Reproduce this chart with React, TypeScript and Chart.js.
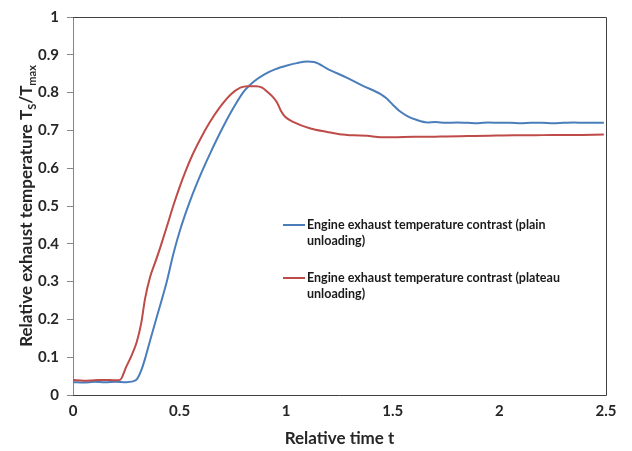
import React, { useEffect, useRef } from "react";
import { Chart, registerables } from "chart.js";

Chart.register(...registerables);

// ---- Data ----
const blueT = [0, 0.05, 0.1, 0.15, 0.2, 0.25, 0.28, 0.3, 0.32, 0.34, 0.362, 0.4, 0.44, 0.47, 0.503, 0.55, 0.6, 0.644, 0.7, 0.75, 0.8, 0.85, 0.9, 0.95, 1.0, 1.05, 1.1, 1.13, 1.2, 1.286, 1.36, 1.443, 1.47, 1.5, 1.53, 1.568, 1.61, 1.662, 1.7, 1.75, 1.8, 1.85, 1.9, 1.95, 2.0, 2.05, 2.1, 2.15, 2.2, 2.25, 2.3, 2.35, 2.4, 2.45, 2.49];
const blueV = [0.034, 0.033, 0.035, 0.034, 0.035, 0.034, 0.036, 0.042, 0.065, 0.1, 0.145, 0.22, 0.3, 0.372, 0.438, 0.515, 0.585, 0.64, 0.705, 0.757, 0.802, 0.83, 0.849, 0.862, 0.871, 0.878, 0.882, 0.881, 0.861, 0.839, 0.818, 0.796, 0.785, 0.768, 0.752, 0.738, 0.728, 0.721, 0.722, 0.72, 0.721, 0.72, 0.719, 0.721, 0.72, 0.72, 0.719, 0.72, 0.72, 0.719, 0.72, 0.721, 0.72, 0.72, 0.72];

const redT = [0, 0.05, 0.1, 0.15, 0.2, 0.221, 0.25, 0.275, 0.299, 0.32, 0.338, 0.362, 0.385, 0.409, 0.44, 0.47, 0.5, 0.53, 0.56, 0.6, 0.64, 0.69, 0.74, 0.785, 0.82, 0.86, 0.887, 0.91, 0.935, 0.957, 0.975, 0.995, 1.035, 1.114, 1.192, 1.25, 1.317, 1.38, 1.443, 1.5, 1.6, 1.678, 1.75, 1.85, 1.95, 2.07, 2.15, 2.25, 2.35, 2.49];
const redV = [0.04, 0.038, 0.039, 0.04, 0.039, 0.04, 0.075, 0.105, 0.14, 0.19, 0.255, 0.313, 0.35, 0.39, 0.445, 0.5, 0.55, 0.595, 0.635, 0.68, 0.72, 0.762, 0.795, 0.813, 0.817, 0.817, 0.813, 0.803, 0.79, 0.774, 0.752, 0.736, 0.722, 0.705, 0.696, 0.69, 0.687, 0.686, 0.682, 0.682, 0.683, 0.683, 0.684, 0.685, 0.686, 0.687, 0.687, 0.688, 0.688, 0.689];

const seriesNames = [
  "Engine exhaust temperature contrast (plain unloading)",
  "Engine exhaust temperature contrast (plateau unloading)",
];
const legendLinesBlue = ["Engine exhaust temperature contrast (plain", "unloading)"];
const legendLinesRed = ["Engine exhaust temperature contrast (plateau", "unloading)"];
const seriesColors = ["#4A7EBB", "#BE4B48"];

const xTitle = "Relative time t";
const yTitleMain = "Relative exhaust temperature T";
const yTitleSub1 = "S";
const yTitleMid = "/T";
const yTitleSub2 = "max";

const FONT = "Lato, 'Open Sans', 'DejaVu Sans', sans-serif";

const pts = (ts: number[], vs: number[]) => ts.map((t, i) => ({ x: t, y: vs[i] }));

const decorPlugin = {
  id: "decor",
  afterDraw(chart: any) {
    const ctx: CanvasRenderingContext2D = chart.ctx;
    const a = chart.chartArea;
    ctx.save();
    // plot frame (top, right, bottom)
    ctx.strokeStyle = "#404040";
    ctx.lineWidth = 1;
    ctx.beginPath();
    ctx.moveTo(a.left, a.top + 0.5);
    ctx.lineTo(a.right + 0.5, a.top + 0.5);
    ctx.lineTo(a.right + 0.5, a.bottom + 0.5);
    ctx.lineTo(a.left, a.bottom + 0.5);
    ctx.stroke();

    // legend inside the plot
    const drawEntry = (lines: string[], color: string, y: number) => {
      ctx.strokeStyle = color;
      ctx.lineWidth = 2;
      ctx.beginPath();
      ctx.moveTo(283, y);
      ctx.lineTo(305, y);
      ctx.stroke();
      ctx.fillStyle = "#1a1a1a";
      ctx.font = `bold 12.5px ${FONT}`;
      ctx.textBaseline = "middle";
      ctx.textAlign = "left";
      lines.forEach((ln, i) => ctx.fillText(ln, 307, y + i * 16));
    };
    drawEntry(legendLinesBlue, seriesColors[0], 225);
    drawEntry(legendLinesRed, seriesColors[1], 278);

    // y-axis title with subscripts
    const big = `bold 17px ${FONT}`;
    const small = `bold 11px ${FONT}`;
    ctx.font = big;
    const w1 = ctx.measureText(yTitleMain).width;
    const w3 = ctx.measureText(yTitleMid).width;
    ctx.font = small;
    const w2 = ctx.measureText(yTitleSub1).width;
    const w4 = ctx.measureText(yTitleSub2).width;
    const total = w1 + w2 + w3 + w4;
    const cy = (a.top + a.bottom) / 2;
    ctx.translate(26, cy);
    ctx.rotate(-Math.PI / 2);
    ctx.fillStyle = "#262626";
    ctx.textBaseline = "alphabetic";
    ctx.textAlign = "left";
    let x = -total / 2;
    const base = 6;
    ctx.font = big;
    ctx.fillText(yTitleMain, x, base);
    x += w1;
    ctx.font = small;
    ctx.fillText(yTitleSub1, x, base + 4);
    x += w2;
    ctx.font = big;
    ctx.fillText(yTitleMid, x, base);
    x += w3;
    ctx.font = small;
    ctx.fillText(yTitleSub2, x, base + 4);
    ctx.restore();
  },
};

export default function App() {
  const ref = useRef<HTMLCanvasElement | null>(null);
  useEffect(() => {
    if (!ref.current) return;
    const chart = new Chart(ref.current, {
      type: "line",
      data: {
        datasets: [
          {
            label: seriesNames[0],
            data: pts(blueT, blueV),
            borderColor: seriesColors[0],
            backgroundColor: seriesColors[0],
            borderWidth: 2,
            pointRadius: 0,
            cubicInterpolationMode: "monotone",
            order: 1,
          },
          {
            label: seriesNames[1],
            data: pts(redT, redV),
            borderColor: seriesColors[1],
            backgroundColor: seriesColors[1],
            borderWidth: 2,
            pointRadius: 0,
            cubicInterpolationMode: "monotone",
            order: 0,
          },
        ],
      },
      options: {
        animation: false,
        responsive: false,
        devicePixelRatio: 1,
        layout: { padding: { top: 12, right: 26, left: 0, bottom: 0 } },
        plugins: { legend: { display: false }, tooltip: { enabled: false } },
        scales: {
          x: {
            type: "linear",
            min: 0,
            max: 2.5,
            afterFit: (s: any) => {
              s.height = 56;
            },
            ticks: {
              stepSize: 0.5,
              padding: 7,
              color: "#262626",
              font: { family: FONT, size: 15, weight: "bold" },
              maxRotation: 0,
              callback: (v: any) => String(Math.round(Number(v) * 10) / 10),
            },
            grid: { display: false, drawTicks: false },
            border: { display: false },
            title: {
              display: true,
              text: xTitle,
              color: "#262626",
              font: { family: FONT, size: 17, weight: "bold" },
              padding: { top: 0, bottom: 2 },
            },
          },
          y: {
            type: "linear",
            min: 0,
            max: 1,
            afterFit: (s: any) => {
              s.width = 73;
            },
            ticks: {
              stepSize: 0.1,
              padding: 8,
              color: "#262626",
              font: { family: FONT, size: 15, weight: "bold" },
              callback: (v: any) => String(Math.round(Number(v) * 10) / 10),
            },
            grid: {
              display: true,
              drawOnChartArea: false,
              drawTicks: true,
              tickLength: 6,
              color: "#868686",
            },
            border: { display: true, color: "#868686", width: 1 },
          },
        },
      },
      plugins: [decorPlugin],
    });
    return () => chart.destroy();
  }, []);
  return (
    <div style={{ position: "fixed", left: 0, top: 0, width: 632, height: 451, background: "#ffffff" }}>
      <canvas ref={ref} width={632} height={451} style={{ display: "block" }} />
    </div>
  );
}
